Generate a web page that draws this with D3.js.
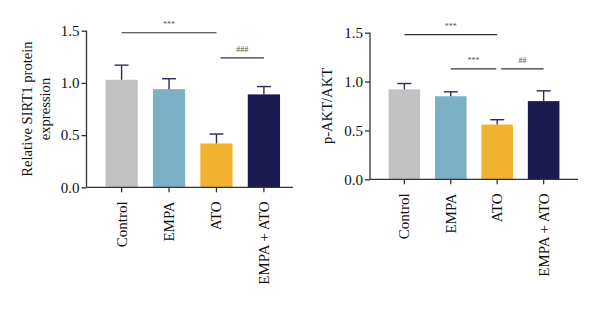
<!DOCTYPE html>
<html><head><meta charset="utf-8">
<script src="https://cdn.jsdelivr.net/npm/d3@7"></script>
<style>body{margin:0;background:#fff}svg{display:block}</style>
</head><body>
<svg id="c" width="600" height="313"></svg>
<script>
const categories = ["Control", "EMPA", "ATO", "EMPA + ATO"];
const colors = ["#c2c2c2", "#7bb0c6", "#f2b232", "#1b1a4f"];
const sirt1Mean = [1.03, 0.94, 0.42, 0.89];
const sirt1Err = [0.14, 0.10, 0.09, 0.075];
const aktMean = [0.92, 0.85, 0.56, 0.80];
const aktErr = [0.06, 0.045, 0.05, 0.105];
const yTicks = [0.0, 0.5, 1.0, 1.5];
const sirt1Sig = [{a:0, b:2, y:1.48, t:"***"}, {a:2, b:3, y:1.24, t:"###"}];
const aktSig = [{a:0, b:2, y:1.48, t:"***"}, {a:1, b:2, y:1.13, t:"***"}, {a:2, b:3, y:1.13, t:"##"}];

const svg = d3.select("#c");
const font = "'Liberation Serif','Times New Roman',serif";

function panel(cfg) {
  const g = svg.append("g");
  const x = d3.scaleBand().domain(categories).range([cfg.x0, cfg.x1]).paddingInner(0.32).paddingOuter(0.4);
  const y = d3.scaleLinear().domain([0, 1.5]).range([cfg.yb, cfg.yt]);
  g.selectAll("rect.bar").data(categories).enter().append("rect")
    .attr("x", d => x(d)).attr("width", x.bandwidth())
    .attr("y", (d,i) => y(cfg.mean[i])).attr("height", (d,i) => y(0) - y(cfg.mean[i]))
    .attr("fill", (d,i) => colors[i]);
  const eb = g.selectAll("g.eb").data(categories).enter().append("g");
  eb.append("line").attr("x1", d => x(d)+x.bandwidth()/2).attr("x2", d => x(d)+x.bandwidth()/2)
    .attr("y1", (d,i) => y(cfg.mean[i])).attr("y2", (d,i) => y(cfg.mean[i]+cfg.err[i]))
    .attr("stroke", "#2c2b55").attr("stroke-width", 1.4);
  eb.append("line").attr("x1", d => x(d)+x.bandwidth()/2-7).attr("x2", d => x(d)+x.bandwidth()/2+7)
    .attr("y1", (d,i) => y(cfg.mean[i]+cfg.err[i])).attr("y2", (d,i) => y(cfg.mean[i]+cfg.err[i]))
    .attr("stroke", "#2c2b55").attr("stroke-width", 1.4);
  const ya = g.append("g").attr("transform", `translate(${cfg.x0},0)`)
    .call(d3.axisLeft(y).tickValues(yTicks).tickFormat(d3.format(".1f")).tickSize(5).tickSizeOuter(0));
  const xa = g.append("g").attr("transform", `translate(0,${cfg.yb})`)
    .call(d3.axisBottom(x).tickSize(5).tickSizeOuter(0).tickFormat(""));
  [ya, xa].forEach(a => {
    a.select(".domain").attr("stroke", "#333").attr("stroke-width", 1.3);
    a.selectAll(".tick line").attr("stroke", "#333").attr("stroke-width", 1.3);
  });
  ya.select(".domain").attr("d", `M0,${cfg.yb}V${cfg.yt}`);
  xa.select(".domain").attr("d", `M${cfg.x0},0H${cfg.xe}`);
  ya.selectAll(".tick text").attr("font-family", font).attr("font-size", 15).attr("fill", "#111").attr("x", -7);
  g.selectAll("text.xl").data(categories).enter().append("text")
    .attr("transform", d => `translate(${x(d)+x.bandwidth()/2+5},${cfg.yb+14}) rotate(-90)`)
    .attr("text-anchor", "end").attr("font-family", font).attr("font-size", 15).attr("fill", "#111")
    .text(d => d);
  cfg.ylab.forEach((t, k) => {
    g.append("text").attr("transform", `translate(${cfg.ylx[k]},${(cfg.yt+cfg.yb)/2}) rotate(-90)`)
      .attr("text-anchor", "middle").attr("font-family", font).attr("font-size", 14.6).attr("fill", "#111").text(t);
  });
  cfg.sig.forEach(s => {
    const xa_ = x(categories[s.a]) + x.bandwidth()/2 + (s.a === 2 ? 4 : 0);
    const xb_ = x(categories[s.b]) + x.bandwidth()/2 - (s.b === 2 && s.a !== 0 ? 1 : 0);
    g.append("line").attr("x1", xa_).attr("x2", xb_).attr("y1", y(s.y)).attr("y2", y(s.y))
      .attr("stroke", "#333").attr("stroke-width", 1.1);
    g.append("text").attr("x", (xa_+xb_)/2).attr("y", y(s.y)-6).attr("text-anchor", "middle")
      .attr("font-family", font).attr("font-size", 8).attr("fill", "#555").text(s.t);
  });
}

panel({x0: 86.5, x1: 299, xe: 293, yt: 30.7, yb: 187.3, mean: sirt1Mean, err: sirt1Err,
  ylab: ["Relative SIRT1 protein", "expression"], ylx: [32, 50], sig: sirt1Sig});
panel({x0: 370, x1: 578, xe: 578, yt: 32.7, yb: 179.3, mean: aktMean, err: aktErr,
  ylab: ["p-AKT/AKT"], ylx: [332], sig: aktSig});
</script>
</body></html>
